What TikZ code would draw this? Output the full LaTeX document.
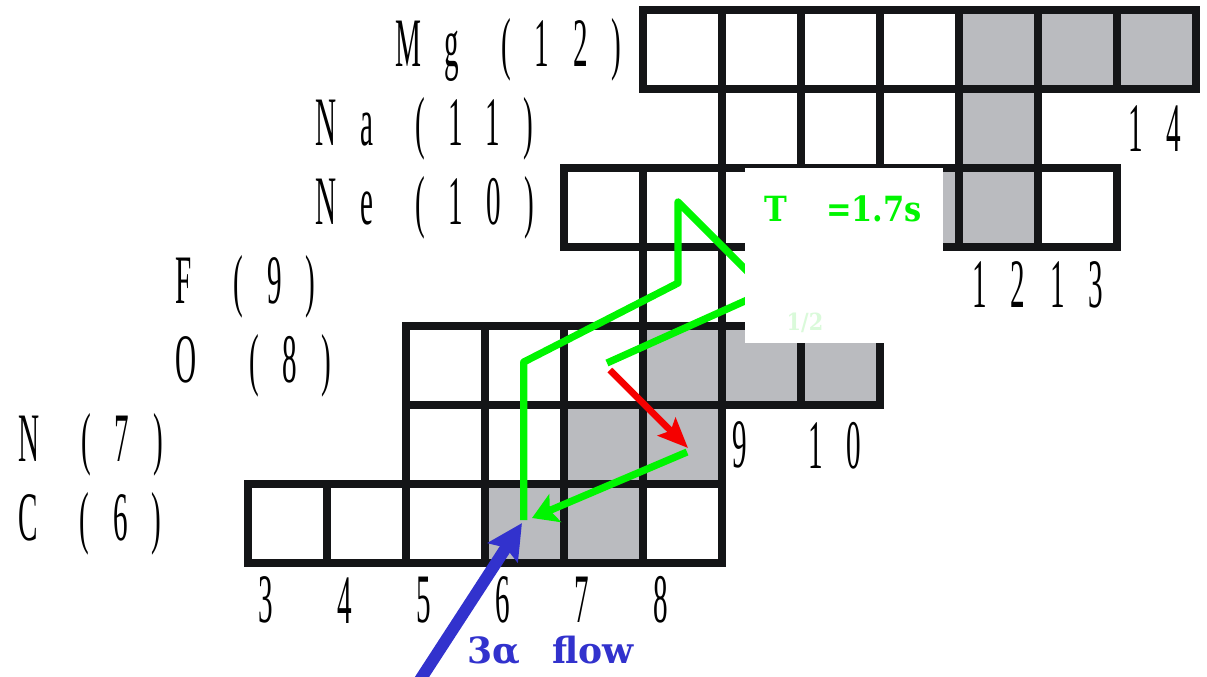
\documentclass[tikz,border=0pt]{standalone}
\usepackage{fontspec}
\usepackage{tikz}
\usetikzlibrary{arrows.meta}
\newfontfamily\isofont[FakeStretch=0.42,LetterSpace=34]{Liberation Serif}
\newfontfamily\notefont[FakeStretch=0.88]{DejaVu Serif}
\newfontfamily\flowfont{DejaVu Serif}
\definecolor{cellgray}{RGB}{186,187,191}
\definecolor{gridblack}{RGB}{20,21,23}
\definecolor{flowgreen}{RGB}{0,245,0}
\definecolor{decayred}{RGB}{245,0,0}
\definecolor{alphablue}{RGB}{50,50,205}
\definecolor{palegreen}{RGB}{218,250,218}
\newcommand{\gap}{\hspace{4pt}}

\begin{document}
\begin{tikzpicture}[>=Stealth, x=1cm, y=1cm,
  cellline/.style={draw=gridblack, line width=3.2pt},
  isolabel/.style={anchor=west, inner sep=0pt, font=\isofont\fontsize{25}{30}\selectfont},
  notelabel/.style={anchor=base west, inner sep=0pt, font=\notefont\bfseries\fontsize{12.5}{15}\selectfont}]
  \useasboundingbox (-0.139,4.570) rectangle (15.139,13.127);

  % Stable nuclei
  \foreach \n/\z in {6/6,7/6,7/7,8/7,8/8,9/8,10/8,10/9,10/10,11/10,12/10,12/11,12/12,13/12,14/12}
    \fill[cellgray] (\n,\z) rectangle ++(1,1);

  % Chart rows: Z / first N / last N
  \foreach \z/\nmin/\nmax in {6/3/8, 7/5/8, 8/5/10, 9/8/10, 10/7/13, 11/9/12, 12/8/14}
    \foreach \n in {\nmin,...,\nmax}
      \draw[cellline] (\n,\z) rectangle ++(1,1);

  % Element names
  \node[isolabel] (lblC)  at (0.089,6.5)  {C \gap(6)};
  \node[isolabel] (lblN)  at (0.089,7.5)  {N \gap(7)};
  \node[isolabel] (lblO)  at (2.076,8.5)  {O \gap\gap(8)};
  \node[isolabel] (lblF)  at (2.076,9.5)  {F \gap(9)};
  \node[isolabel] (lblNe) at (3.85,10.5)  {Ne \gap(10)};
  \node[isolabel] (lblNa) at (3.85,11.5)  {Na \gap(11)};
  \node[isolabel] (lblMg) at (4.86,12.5)  {Mg \gap(12)};

  % Neutron numbers
  \foreach \n in {3,...,8}
    \node[isolabel] (nn\n) at (\n+0.13,5.53) {\n};
  \node[isolabel] (nn9)  at (9.12,7.49)  {9};
  \node[isolabel] (nn10) at (10.09,7.49) {10};
  \node[isolabel] (nn12) at (12.16,9.52) {12};
  \node[isolabel] (nn13) at (13.15,9.52) {13};
  \node[isolabel] (nn14) at (14.14,11.5) {14};

  % Path points
  \coordinate (g0) at (6.49,6.544);
  \coordinate (g1) at (6.49,8.544);
  \coordinate (g2) at (8.443,9.544);
  \coordinate (g3) at (8.443,10.57);
  \coordinate (g4) at (9.57,9.443);
  \coordinate (g5) at (7.544,8.532);
  \coordinate (r0) at (7.58,8.443);
  \coordinate (r1) at (8.57,7.456);
  \coordinate (a0) at (8.557,7.405);
  \coordinate (a1) at (6.595,6.57);
  \coordinate (b0) at (5.013,4.266);
  \coordinate (b1) at (6.468,6.506);

  % Hot CNO breakout path
  \draw[flowgreen, line width=2.6pt, line join=round] (g0) -- (g1) -- (g2) -- (g3) -- (g4) -- (g5);
  \draw[->, decayred, line width=2.4pt, >={Stealth[length=10.8pt, width=9pt, inset=2pt]}] (r0) -- (r1);
  \draw[->, flowgreen, line width=2.6pt, >={Stealth[length=9pt, width=10.8pt, inset=2pt]}] (a0) -- (a1);

  % Half-life box
  \fill[white] (9.29,8.785) rectangle (11.80,11.0);
  \node[notelabel, text=flowgreen] (thalf) at (9.53,10.32) {T};
  \node[notelabel, text=flowgreen] (tval) at (10.31,10.32) {=1.7s};
  \node[notelabel, anchor=center, text=palegreen, font=\notefont\bfseries\fontsize{8.5}{10}\selectfont] (tsub) at (10.05,9.04) {1/2};

  % Triple alpha input
  \draw[->, alphablue, line width=4.3pt, >={Stealth[length=12.6pt, width=12.6pt, inset=2pt]}] (b0) -- (b1);
  \node[notelabel, text=alphablue, font=\flowfont\bfseries\fontsize{13}{15}\selectfont] (flow) at (5.77,4.734) {3α\hspace{7pt} flow};
\end{tikzpicture}
\end{document}
